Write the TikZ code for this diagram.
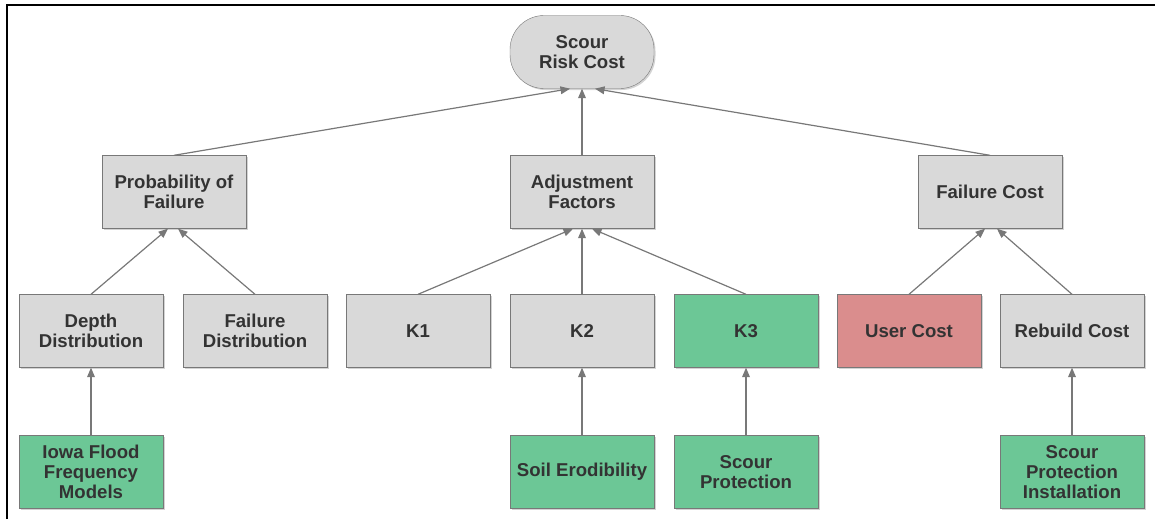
\documentclass[tikz,border=0pt]{standalone}
\usepackage{fontspec}
\setmainfont{Liberation Sans}
\usepackage{tikz}
\usetikzlibrary{shapes}
\usetikzlibrary{arrows}
\usetikzlibrary{shadows}

\definecolor{boxgray}{RGB}{217,217,217}
\definecolor{boxgreen}{RGB}{108,199,150}
\definecolor{boxred}{RGB}{218,141,141}
\definecolor{edgegray}{RGB}{120,120,120}
\definecolor{textgray}{RGB}{51,51,51}

\begin{document}
\begin{tikzpicture}[x=1pt,y=-1pt]
					\tikzstyle{box}=[rectangle,draw=edgegray,fill=boxgray,minimum width=144pt,minimum height=73pt,align=center,text=textgray,font=\fontsize{18.6}{20}\selectfont\bfseries,drop shadow={shadow xshift=1.5pt,shadow yshift=-1.5pt,opacity=0.35}]
					\tikzstyle{greenbox}=[box,fill=boxgreen]
					\tikzstyle{redbox}=[box,fill=boxred]
					\tikzstyle{link}=[draw=edgegray,line width=1.2pt,-triangle 45]
					
					\useasboundingbox (0,0) rectangle (1155,519);
					\draw[line width=2pt] (7,519) -- (7,5) -- (1155,5);
					
					% top
					\node[box,rounded corners=34pt] (risk) at (582,52) {Scour\\Risk Cost};
					
					% second row
					\node[box] (prob) at (174,192) {Probability of\\Failure};
					\node[box] (adj) at (582,192) {Adjustment\\Factors};
					\node[box] (fail) at (990,192) {Failure Cost};
					
					% third row
					\node[box] (depth) at (91,331) {Depth\\Distribution};
					\node[box] (faildist) at (255,331) {Failure\\Distribution};
					\node[box] (kone) at (418,331) {K1};
					\node[box] (ktwo) at (582,331) {K2};
					\node[greenbox] (kthree) at (746,331) {K3};
					\node[redbox] (user) at (909,331) {User Cost};
					\node[box] (rebuild) at (1072,331) {Rebuild Cost};
					
					% bottom row
					\node[greenbox] (iowa) at (91,472) {Iowa Flood\\Frequency\\Models};
					\node[greenbox] (soil) at (582,472) {Soil Erodibility};
					\node[greenbox] (protect) at (746,472) {Scour\\Protection};
					\node[greenbox] (install) at (1072,472) {Scour\\Protection\\Installation};
					
					\draw[link] (prob.north) -- ([xshift=-12pt]risk.south);
					\draw[link] (adj.north) -- (risk.south);
					\draw[link] (fail.north) -- ([xshift=13pt]risk.south);
					
					\draw[link] (depth.north) -- ([xshift=-6pt]prob.south);
					\draw[link] (faildist.north) -- ([xshift=4pt]prob.south);
					\draw[link] (kone.north) -- ([xshift=-9pt]adj.south);
					\draw[link] (ktwo.north) -- (adj.south);
					\draw[link] (kthree.north) -- ([xshift=10pt]adj.south);
					\draw[link] (user.north) -- ([xshift=-5pt]fail.south);
					\draw[link] (rebuild.north) -- ([xshift=7pt]fail.south);
					
					\draw[link] (iowa.north) -- (depth.south);
					\draw[link] (soil.north) -- (ktwo.south);
					\draw[link] (protect.north) -- (kthree.south);
					\draw[link] (install.north) -- (rebuild.south);
					
					\end{tikzpicture}
\end{document}
